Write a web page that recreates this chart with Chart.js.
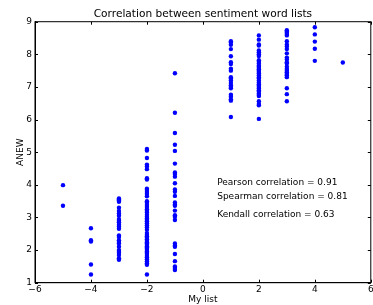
<!DOCTYPE html>
<html>
<head>
<meta charset="utf-8">
<script src="https://cdn.jsdelivr.net/npm/chart.js@4.4.1/dist/chart.umd.min.js"></script>
<style>
  html, body { margin: 0; padding: 0; background: #fff; }
  canvas { display: block; }
</style>
</head>
<body>
<canvas id="c" width="373" height="305"></canvas>
<script>
// ---- data ----
const myListScores = [-5, -4, -3, -2, -1, 1, 2, 3, 4, 5];
const anewM5 = [3.99, 3.36];
const anewM4 = [2.67, 2.3, 2.26, 1.56, 1.25];
const anewM3 = [3.58, 3.55, 3.52, 3.48, 3.3, 3.2, 3.12, 3.05, 2.95, 2.9, 2.85, 2.78, 2.72, 2.65, 2.45, 2.4, 2.3, 2.25, 2.2, 2.1, 2.0, 1.97, 1.92, 1.85, 1.75, 1.7];
const anewM2 = [5.1, 5.05, 4.82, 4.62, 4.56, 4.48, 4.2, 4.16, 3.88, 3.84, 3.78, 3.72, 3.65, 3.5, 3.45, 3.38, 3.32, 3.25, 3.2, 3.15, 3.08, 3.02, 2.97, 2.92, 2.88, 2.82, 2.76, 2.7, 2.62, 2.52, 2.46, 2.42, 2.38, 2.33, 2.28, 2.24, 2.2, 2.16, 2.12, 2.08, 2.04, 2.0, 1.96, 1.92, 1.88, 1.82, 1.78, 1.72, 1.66, 1.6, 1.55, 1.25];
const anewM1 = [7.42, 6.21, 5.59, 5.23, 5.04, 4.65, 4.38, 4.33, 4.25, 4.05, 3.86, 3.79, 3.66, 3.46, 3.4, 3.36, 3.21, 3.07, 3.02, 2.92, 2.2, 2.14, 2.1, 1.88, 1.66, 1.5, 1.45, 1.39];
const anewP1 = [8.4, 8.36, 8.29, 8.16, 7.94, 7.76, 7.7, 7.56, 7.5, 7.3, 7.26, 7.2, 7.12, 7.05, 7.0, 6.96, 6.76, 6.7, 6.62, 6.58, 6.08];
const anewP2 = [8.58, 8.45, 8.3, 8.27, 8.12, 8.06, 8.0, 7.95, 7.82, 7.77, 7.72, 7.66, 7.62, 7.58, 7.54, 7.5, 7.46, 7.42, 7.36, 7.3, 7.26, 7.2, 7.14, 7.08, 7.04, 7.0, 6.95, 6.9, 6.86, 6.8, 6.75, 6.72, 6.56, 6.48, 6.44, 6.02];
const anewP3 = [8.74, 8.7, 8.66, 8.62, 8.58, 8.4, 8.3, 8.24, 8.16, 8.03, 7.9, 7.84, 7.76, 7.72, 7.62, 7.55, 7.5, 7.45, 7.4, 7.36, 7.3, 6.96, 6.78, 6.56];
const anewP4 = [8.83, 8.61, 8.39, 8.17, 7.8];
const anewP5 = [7.75];
const anewByScore = [anewM5, anewM4, anewM3, anewM2, anewM1, anewP1, anewP2, anewP3, anewP4, anewP5];

const xTicks = [-6, -4, -2, 0, 2, 4, 6];
const yTicks = [1, 2, 3, 4, 5, 6, 7, 8, 9];
const chartTitle = 'Correlation between sentiment word lists';
const correlationTexts = ['Pearson correlation = 0.91', 'Spearman correlation = 0.81', 'Kendall correlation = 0.63'];

// ---- build points ----
const points = [];
myListScores.forEach((s, i) => anewByScore[i].forEach(v => points.push({ x: s, y: v })));

const FONT = "'DejaVu Sans', 'Liberation Sans', sans-serif";
Chart.defaults.font.family = FONT;
Chart.defaults.color = '#000';

const fmt = v => String(v).replace('-', '\u2212');

const framePlugin = {
  id: 'frame',
  afterDraw(chart) {
    const { ctx, chartArea: a, scales: { x, y } } = chart;
    ctx.save();
    ctx.strokeStyle = '#000';
    ctx.lineWidth = 1;
    ctx.strokeRect(a.left, a.top, a.right - a.left, a.bottom - a.top);
    const L = 3;
    ctx.beginPath();
    xTicks.forEach(t => {
      const px = Math.round(x.getPixelForValue(t)) + 0.5;
      ctx.moveTo(px, a.bottom); ctx.lineTo(px, a.bottom - L);
      ctx.moveTo(px, a.top); ctx.lineTo(px, a.top + L);
    });
    yTicks.forEach(t => {
      const py = Math.round(y.getPixelForValue(t)) + 0.5;
      ctx.moveTo(a.left, py); ctx.lineTo(a.left + L, py);
      ctx.moveTo(a.right, py); ctx.lineTo(a.right - L, py);
    });
    ctx.stroke();
    ctx.fillStyle = '#000';
    // title centred over the plot area
    ctx.font = '10.6px ' + FONT;
    ctx.textAlign = 'center';
    ctx.textBaseline = 'alphabetic';
    ctx.fillText(chartTitle, (a.left + a.right) / 2, a.top - 4.5);
    // correlation annotations
    ctx.font = '9px ' + FONT;
    ctx.textAlign = 'left';
    const ys = [4.0, 3.57, 3.0];
    correlationTexts.forEach((t, i) => {
      ctx.fillText(t, x.getPixelForValue(0.51), y.getPixelForValue(ys[i]));
    });
    ctx.restore();
  }
};

new Chart(document.getElementById('c'), {
  type: 'scatter',
  data: {
    datasets: [{
      data: points,
      backgroundColor: '#0000ff',
      borderColor: '#0000ff',
      borderWidth: 0,
      pointRadius: 2.2,
      pointHoverRadius: 2.2
    }]
  },
  options: {
    responsive: false,
    animation: false,
    events: [],
    layout: { padding: { left: 0, right: 2, top: 21.7, bottom: 0 } },
    plugins: {
      legend: { display: false },
      tooltip: { enabled: false },
      title: { display: false }
    },
    scales: {
      x: {
        type: 'linear',
        min: -6, max: 6,
        afterBuildTicks(scale) { scale.ticks = xTicks.map(v => ({ value: v })); },
        afterFit(scale) { scale.height = 22.3; scale.paddingLeft = 0; scale.paddingRight = 0; },
        grid: { display: false, drawTicks: false },
        border: { display: true, color: '#000', width: 1 },
        ticks: { padding: 2, font: { size: 9 }, color: '#000', maxRotation: 0, autoSkip: false, callback: v => fmt(v) },
        title: { display: true, text: 'My list', color: '#000', font: { size: 9, lineHeight: 1.2 }, padding: { top: 0, bottom: 0 } }
      },
      y: {
        type: 'linear',
        min: 1, max: 9,
        afterBuildTicks(scale) { scale.ticks = yTicks.map(v => ({ value: v })); },
        afterFit(scale) { scale.width = 35; scale.paddingTop = 0; scale.paddingBottom = 0; },
        grid: { display: false, drawTicks: false },
        border: { display: true, color: '#000', width: 1 },
        ticks: { padding: 3, font: { size: 9 }, color: '#000', autoSkip: false, callback: v => fmt(v) },
        title: { display: true, text: 'ANEW', color: '#000', font: { size: 9, lineHeight: 1.2 }, padding: { top: 15, bottom: 0 } }
      }
    }
  },
  plugins: [framePlugin]
});
</script>
</body>
</html>
